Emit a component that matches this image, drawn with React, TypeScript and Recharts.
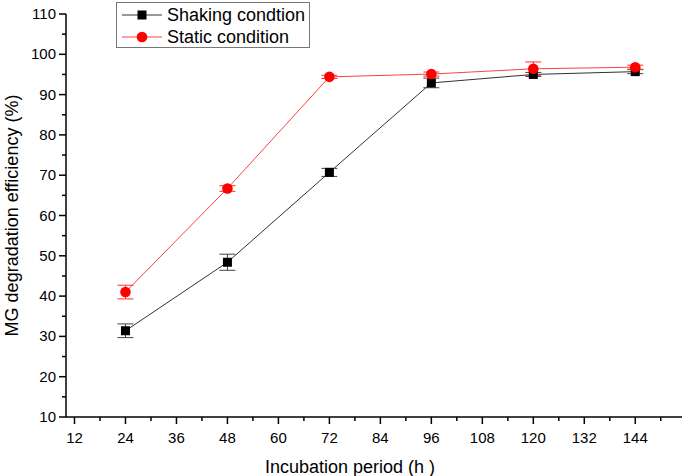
import { LineChart, Line, XAxis, YAxis, ErrorBar } from "recharts";

// incubation time (h)
const hours = [24, 48, 72, 96, 120, 144];
const shaking = [31.4, 48.4, 70.7, 92.9, 95.0, 95.7];
const shakingErr = [1.7, 2.0, 1.0, 1.2, 0.5, 0.5];
const staticCond = [41.0, 66.7, 94.4, 95.1, 96.4, 96.8];
const staticErr = [1.7, 0.7, 0.4, 0.5, 1.7, 0.5];

const seriesNames = ["Shaking condtion", "Static condition"];
const xTicks = [12, 18, 24, 30, 36, 42, 48, 54, 60, 66, 72, 78, 84, 90, 96, 102, 108, 114, 120, 126, 132, 138, 144, 150];
const yTicks = [10, 15, 20, 25, 30, 35, 40, 45, 50, 55, 60, 65, 70, 75, 80, 85, 90, 95, 100, 105, 110];

const data = hours.map((h, i) => ({
  hour: h,
  shaking: shaking[i],
  shakingErr: shakingErr[i],
  statics: staticCond[i],
  staticErr: staticErr[i],
}));

const FONT = "'Liberation Sans', Arial, sans-serif";

const XTick = (props: any) => {
  const { x, y, payload } = props;
  const major = payload.value % 12 === 0;
  return (
    <g>
      <line x1={x} y1={y} x2={x} y2={y + (major ? 7 : 4)} stroke="#000" strokeWidth={1.5} />
      {major && (
        <text x={x} y={y + 26} textAnchor="middle" fontSize={15} fontFamily={FONT} fill="#000">
          {payload.value}
        </text>
      )}
    </g>
  );
};

const YTick = (props: any) => {
  const { x, y, payload } = props;
  const major = payload.value % 10 === 0;
  return (
    <g>
      <line x1={x} y1={y} x2={x - (major ? 7 : 4)} y2={y} stroke="#000" strokeWidth={1.5} />
      {major && (
        <text x={x - 10} y={y + 5} textAnchor="end" fontSize={15} fontFamily={FONT} fill="#000">
          {payload.value}
        </text>
      )}
    </g>
  );
};

const XTitle = (props: any) => {
  const vb = props.viewBox || {};
  const top = vb.y ?? 417;
  return (
    <text x={350} y={top + 56} textAnchor="middle" fontSize={18} fontFamily={FONT} fill="#000">
      Incubation period (h )
    </text>
  );
};

const YTitle = (props: any) => {
  const vb = props.viewBox || {};
  const cy = (vb.y ?? 14) + (vb.height ?? 403) / 2;
  return (
    <text
      x={0}
      y={0}
      transform={`translate(18, ${cy}) rotate(-90)`}
      textAnchor="middle"
      fontSize={18}
      fontFamily={FONT}
      fill="#000"
    >
      MG degradation efficiency (%)
    </text>
  );
};

const SquareDot = (props: any) => {
  const { cx, cy } = props;
  return <rect x={cx - 4.5} y={cy - 4.5} width={9} height={9} fill="#000" />;
};

const RoundDot = (props: any) => {
  const { cx, cy } = props;
  return <circle cx={cx} cy={cy} r={5.3} fill="#ff0000" />;
};

const LegendBox = () => (
  <div
    style={{
      position: "absolute",
      left: 116,
      top: 2,
      width: 192,
      height: 44,
      border: "1px solid #777",
      background: "#fff",
      fontFamily: FONT,
      fontSize: 18,
    }}
  >
    {seriesNames.map((name, i) => (
      <div key={name} style={{ position: "absolute", left: 0, top: 2 + i * 22, height: 20, display: "flex", alignItems: "center" }}>
        <svg width={49} height={20}>
          <line x1={5} y1={10} x2={45} y2={10} stroke={i === 0 ? "#333" : "#ff4040"} strokeWidth={1} />
          {i === 0 ? <rect x={20.5} y={5.5} width={9} height={9} fill="#000" /> : <circle cx={25} cy={10} r={5.3} fill="#ff0000" />}
        </svg>
        <span style={{ marginLeft: 1 }}>{name}</span>
      </div>
    ))}
  </div>
);

export default function App() {
  return (
    <div style={{ position: "absolute", left: 0, top: 0, width: 685, height: 476, background: "#fff" }}>
      <LineChart width={685} height={476} data={data} margin={{ top: 14, right: 3, bottom: 0, left: 0 }}>
        <XAxis
          dataKey="hour"
          type="number"
          domain={[10, 155]}
          ticks={xTicks}
          interval={0}
          height={59}
          tickSize={0}
          tickMargin={0}
          tick={<XTick />}
          axisLine={{ stroke: "#000", strokeWidth: 1.5 }}
          tickLine={false}
          label={<XTitle />}
        />
        <YAxis
          type="number"
          domain={[10, 110]}
          ticks={yTicks}
          interval={0}
          width={66}
          tickSize={0}
          tickMargin={0}
          tick={<YTick />}
          axisLine={{ stroke: "#000", strokeWidth: 1.5 }}
          tickLine={false}
          label={<YTitle />}
        />
        <Line
          dataKey="shaking"
          stroke="#333"
          strokeWidth={1}
          dot={<SquareDot />}
          activeDot={false}
          isAnimationActive={false}
        >
          <ErrorBar dataKey="shakingErr" direction="y" width={8} stroke="#444" strokeWidth={1} />
        </Line>
        <Line
          dataKey="statics"
          stroke="#ff4040"
          strokeWidth={1}
          dot={<RoundDot />}
          activeDot={false}
          isAnimationActive={false}
        >
          <ErrorBar dataKey="staticErr" direction="y" width={8} stroke="#ff3030" strokeWidth={1} />
        </Line>
      </LineChart>
      <LegendBox />
    </div>
  );
}
